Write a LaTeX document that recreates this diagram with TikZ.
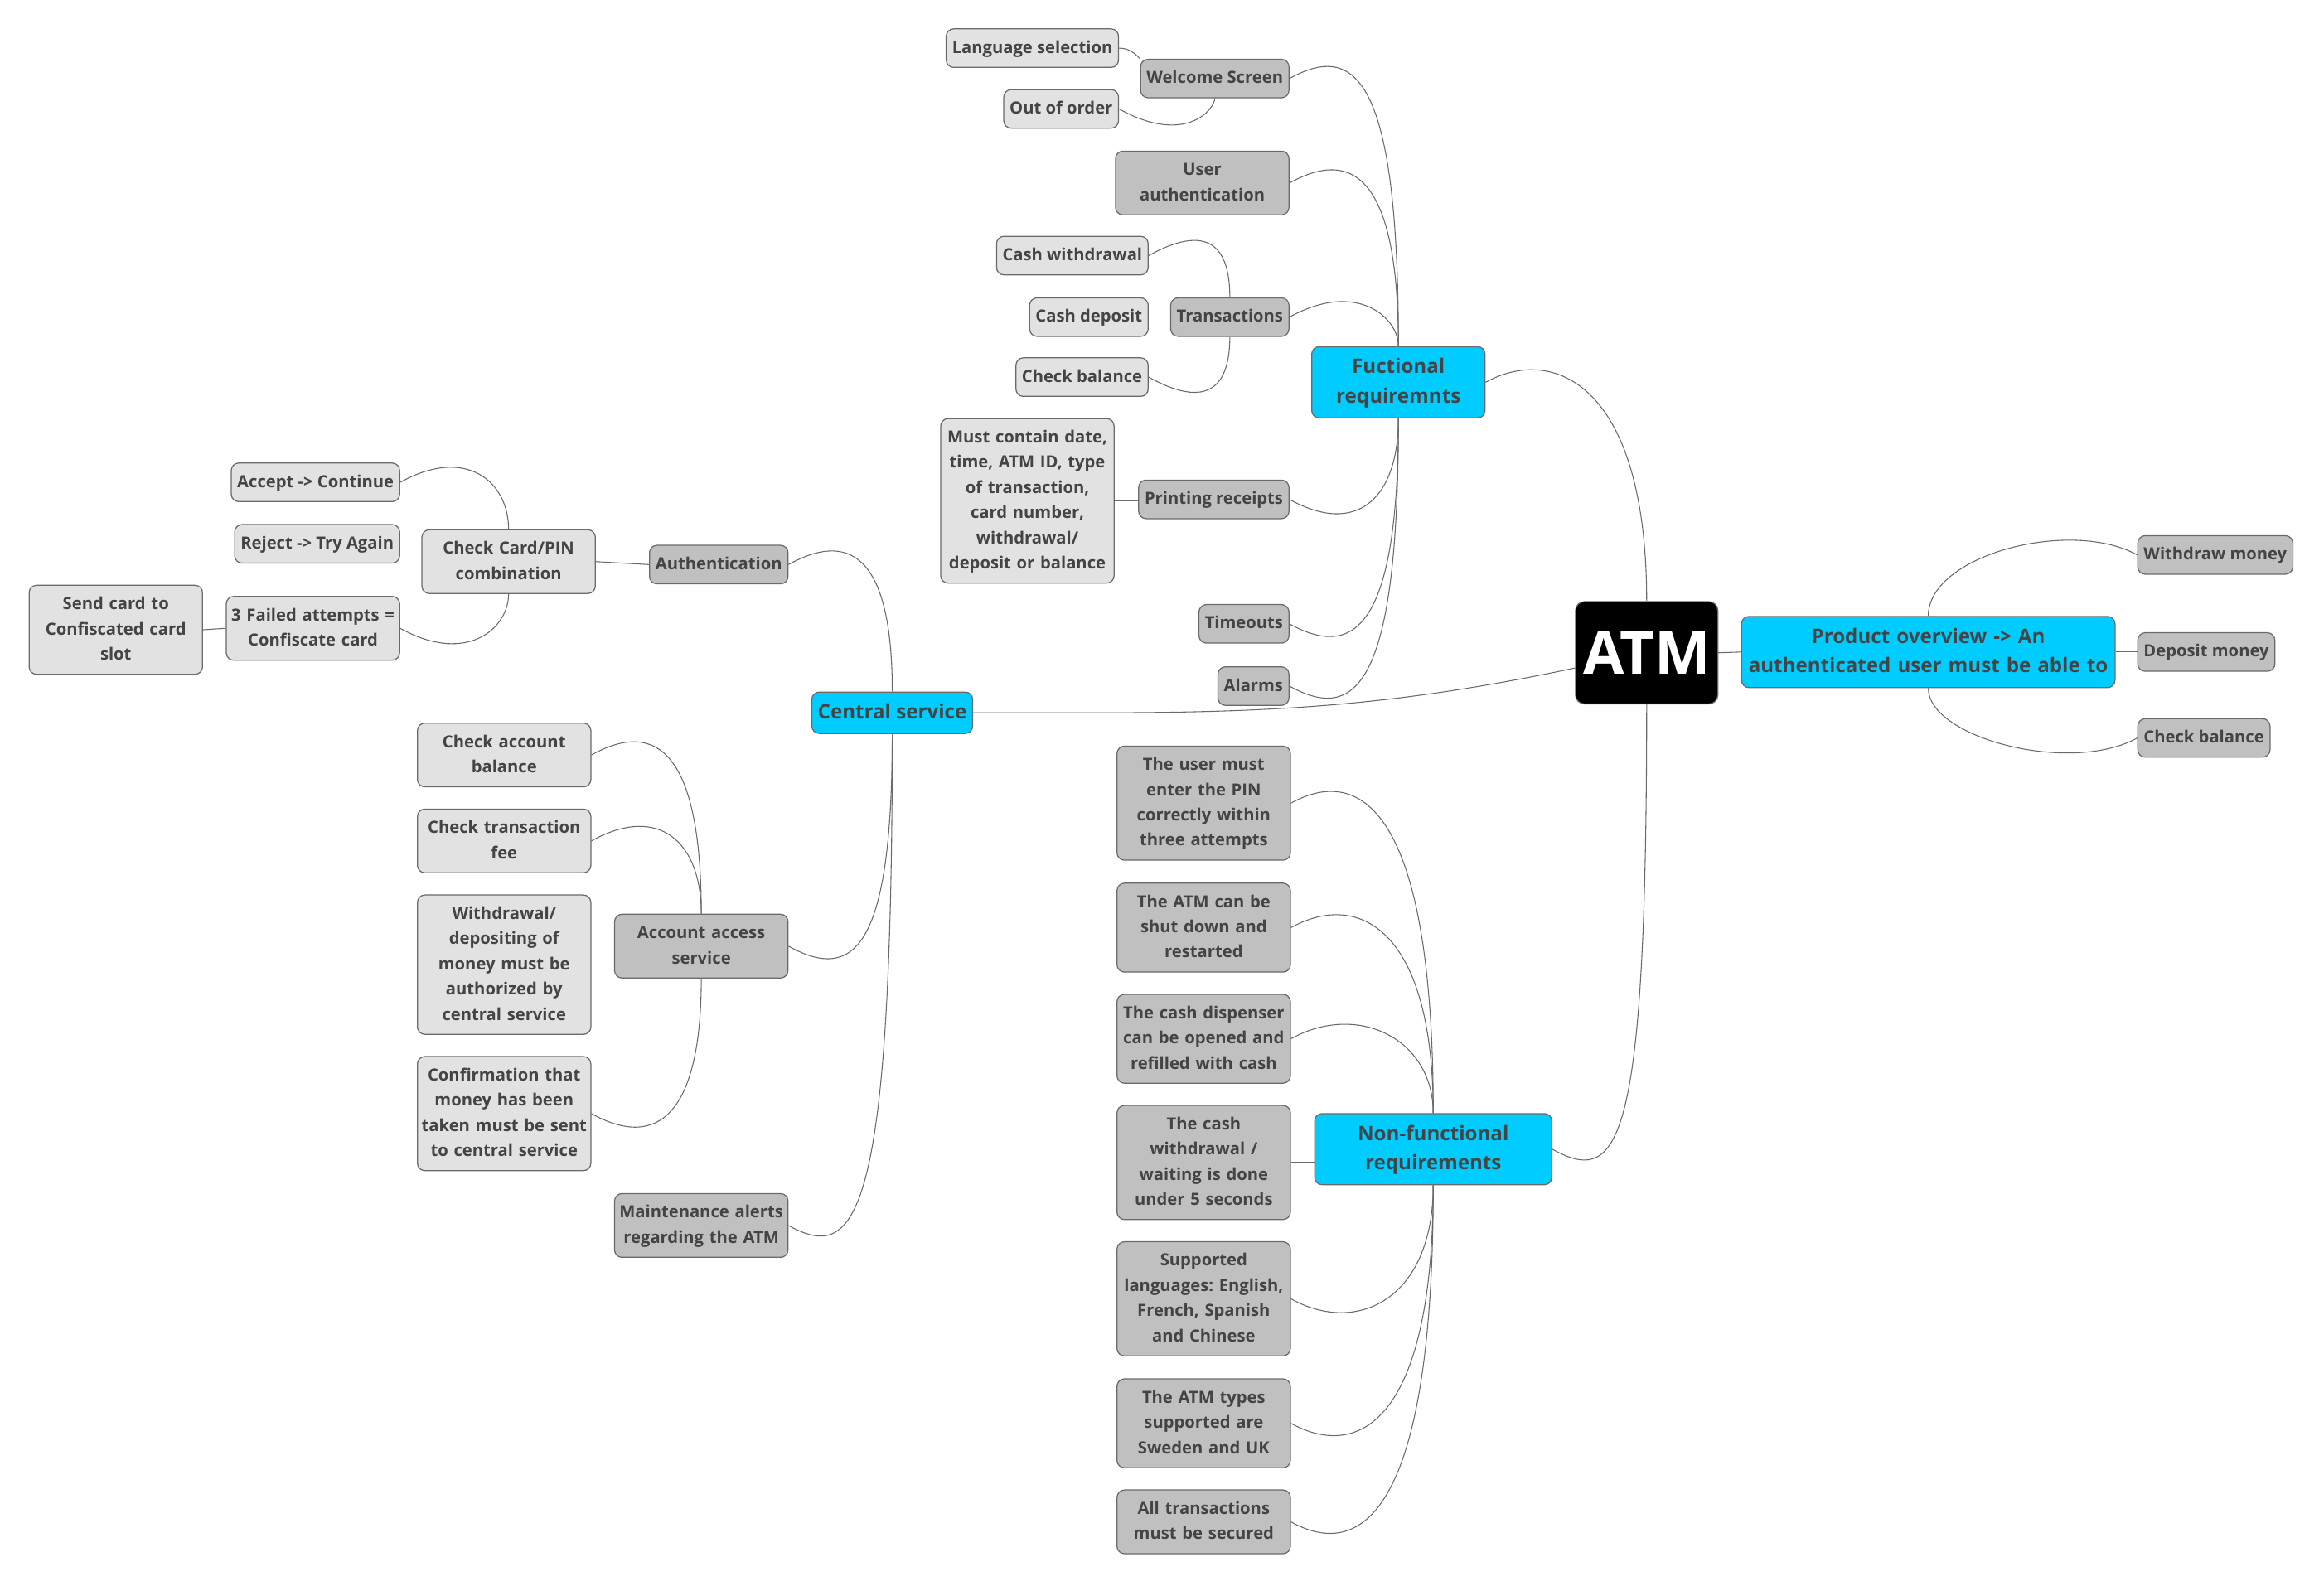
\documentclass[tikz,border=0pt]{standalone}
\usepackage{fontspec}
\setmainfont{Open Sans}
\usepackage{tikz}
\pgfdeclarelayer{background}
\pgfsetlayers{background,main}
\definecolor{topiccol}{HTML}{00CCFF}
\definecolor{itemcol}{HTML}{C0C0C0}
\definecolor{leafcol}{HTML}{E2E2E2}
\definecolor{txtcol}{HTML}{444444}
\definecolor{linecol}{HTML}{6A6A6A}
\frenchspacing

\begin{document}
\begin{tikzpicture}[x=1pt, y=1pt]
    \tikzset{box/.style = {draw=linecol, line width=0.7pt, rounded corners=5pt, text=txtcol, align=center,
        inner xsep=4pt, inner ysep=4.5pt, font=\bfseries\fontsize{11.3}{17}\selectfont,
        execute at begin node=\strut, execute at end node=\strut}}
    \tikzset{rootbox/.style = {draw=linecol, line width=0.7pt, rounded corners=6pt, fill=black, text=white,
        font=\bfseries\fontsize{40}{44}\selectfont, minimum width=96pt, minimum height=69pt}}
    \tikzset{topicbox/.style = {box, fill=topiccol, inner ysep=4pt, font=\bfseries\fontsize{13.5}{20}\selectfont}}
    \tikzset{itembox/.style = {box, fill=itemcol}}
    \tikzset{leafbox/.style = {box, fill=leafcol}}
    \tikzset{wbox/.style = {text width=113pt, inner xsep=2pt}}
    \tikzset{link/.style = {draw=linecol, line width=0.6pt}}
    \tikzset{lup/.style = {to path={.. controls (\tikztostart |- \tikztotarget) and +(45,25) .. (\tikztotarget)}}}
    \tikzset{ldown/.style = {to path={.. controls (\tikztostart |- \tikztotarget) and +(45,-25) .. (\tikztotarget)}}}
    \tikzset{rup/.style = {to path={.. controls (\tikztostart |- \tikztotarget) and +(-45,25) .. (\tikztotarget)}}}
    \tikzset{rdown/.style = {to path={.. controls (\tikztostart |- \tikztotarget) and +(-45,-25) .. (\tikztotarget)}}}

    \useasboundingbox (0,0) rectangle (1568,-1070);

    % root and topics
    \node[rootbox] (atm) at (1111,-440.5) {ATM};
    \node[topicbox, text width=248pt, inner xsep=2pt] (pov) at (1301,-440) {Product overview -> An\\authenticated user must be able to};
    \node[topicbox, wbox] (fr) at (943.5,-258) {Fuctional\\requiremnts};
    \node[topicbox] (cs) at (602,-481) {Central service};
    \node[topicbox, text width=156pt, inner xsep=2pt] (nf) at (967,-775.5) {Non-functional\\requirements};

    % product overview
    \node[itembox, anchor=west] (wm) at (1442,-374.5) {Withdraw money};
    \node[itembox, anchor=west] (dm) at (1442,-440) {Deposit money};
    \node[itembox, anchor=west] (cbp) at (1442,-498) {Check balance};

    % functional requirements
    \node[itembox, anchor=east] (ws) at (870,-53) {Welcome Screen};
    \node[leafbox, anchor=east] (ls) at (755,-32.5) {Language selection};
    \node[leafbox, anchor=east] (oo) at (755,-73.5) {Out of order};
    \node[itembox, wbox, anchor=east] (ua) at (870,-123.5) {User\\authentication};
    \node[itembox, anchor=east] (tr) at (870,-214) {Transactions};
    \node[leafbox, anchor=east] (cw) at (775,-172.5) {Cash withdrawal};
    \node[leafbox, anchor=east] (cd) at (775,-214) {Cash deposit};
    \node[leafbox, anchor=east] (cb) at (775,-254.5) {Check balance};
    \node[itembox, anchor=east] (pr) at (870,-337) {Printing receipts};
    \node[leafbox, wbox, anchor=east] (mc) at (752,-338) {Must contain date,\\time, ATM ID, type\\of transaction,\\card number,\\withdrawal/\\deposit or balance};
    \node[itembox, anchor=east] (tmo) at (870,-421) {Timeouts};
    \node[itembox, anchor=east] (al) at (870,-463) {Alarms};

    % central service
    \node[itembox, anchor=east] (au) at (532,-381) {Authentication};
    \node[leafbox, wbox, anchor=east] (cc) at (402,-379) {Check Card/PIN\\combination};
    \node[leafbox, anchor=east] (ac) at (270,-325.5) {Accept -> Continue};
    \node[leafbox, anchor=east] (rj) at (270,-367) {Reject -> Try Again};
    \node[leafbox, wbox, anchor=east] (fa) at (270,-424) {3 Failed attempts =\\Confiscate card};
    \node[leafbox, wbox, anchor=east] (sc) at (137,-425) {Send card to\\Confiscated card\\slot};
    \node[itembox, wbox, anchor=east] (aa) at (532,-638.5) {Account access\\service};
    \node[leafbox, wbox, anchor=east] (cab) at (399,-509.5) {Check account\\balance};
    \node[leafbox, wbox, anchor=east] (ctf) at (399,-567.5) {Check transaction\\fee};
    \node[leafbox, wbox, anchor=east] (wd) at (399,-651) {Withdrawal/\\depositing of\\money must be\\authorized by\\central service};
    \node[leafbox, wbox, anchor=east] (cf) at (399,-751.5) {Confirmation that\\money has been\\taken must be sent\\to central service};
    \node[itembox, wbox, anchor=east] (ma) at (532,-827) {Maintenance alerts\\regarding the ATM};

    % non-functional requirements
    \node[itembox, wbox, anchor=east] (n1) at (871,-542) {The user must\\enter the PIN\\correctly within\\three attempts};
    \node[itembox, wbox, anchor=east] (n2) at (871,-626) {The ATM can be\\shut down and\\restarted};
    \node[itembox, wbox, anchor=east] (n3) at (871,-701) {The cash dispenser\\can be opened and\\refilled with cash};
    \node[itembox, wbox, anchor=east] (n4) at (871,-784.5) {The cash\\withdrawal /\\waiting is done\\under 5 seconds};
    \node[itembox, wbox, anchor=east] (n5) at (871,-876.5) {Supported\\languages: English,\\French, Spanish\\and Chinese};
    \node[itembox, wbox, anchor=east] (n6) at (871,-960.5) {The ATM types\\supported are\\Sweden and UK};
    \node[itembox, wbox, anchor=east] (n7) at (871,-1027) {All transactions\\must be secured};

    % edges
    \begin{pgfonlayer}{background}
    \draw[link] (atm.east) -- (pov.west);
    \draw[link] (atm.north) to[lup] (fr.east);
    \draw[link] (cs.east) to[out=0, in=192] (atm.192);
    \draw[link] (atm.south) to[ldown] (nf.east);

    \draw[link] (pov.north) to[rup] (wm.west);
    \draw[link] (pov.east) -- (dm.west);
    \draw[link] (pov.south) to[rdown] (cbp.west);

    \draw[link] (fr.north) to[lup] (ws.east);
    \draw[link] (fr.north) to[lup] (ua.east);
    \draw[link] (fr.north) to[lup] (tr.east);
    \draw[link] (fr.south) to[ldown] (pr.east);
    \draw[link] (fr.south) to[ldown] (tmo.east);
    \draw[link] (fr.south) to[ldown] (al.east);
    \draw[link] (ls.east) to[out=0, in=135] (ws.north west);
    \draw[link] (ws.south) to[ldown] (oo.east);
    \draw[link] (tr.north) to[lup] (cw.east);
    \draw[link] (cd.east) -- (tr.west);
    \draw[link] (tr.south) to[ldown] (cb.east);
    \draw[link] (mc.east) -- (mc.east -| pr.west);

    \draw[link] (cs.north) to[lup] (au.east);
    \draw[link] (cs.south) to[ldown] (aa.east);
    \draw[link] (cs.south) to[ldown] (ma.east);
    \draw[link] (cc.east) -- (au.west);
    \draw[link] (cc.north) to[lup] (ac.east);
    \draw[link] (rj.east) -- (rj.east -| cc.west);
    \draw[link] (cc.south) to[ldown] (fa.east);
    \draw[link] (sc.east) -- (fa.west);
    \draw[link] (aa.north) to[lup] (cab.east);
    \draw[link] (aa.north) to[lup] (ctf.east);
    \draw[link] (wd.east) -- (wd.east -| aa.west);
    \draw[link] (aa.south) to[ldown] (cf.east);

    \draw[link] (nf.north) to[lup] (n1.east);
    \draw[link] (nf.north) to[lup] (n2.east);
    \draw[link] (nf.north) to[lup] (n3.east);
    \draw[link] (n4.east) -- (n4.east -| nf.west);
    \draw[link] (nf.south) to[ldown] (n5.east);
    \draw[link] (nf.south) to[ldown] (n6.east);
    \draw[link] (nf.south) to[ldown] (n7.east);
    \end{pgfonlayer}
\end{tikzpicture}
\end{document}
